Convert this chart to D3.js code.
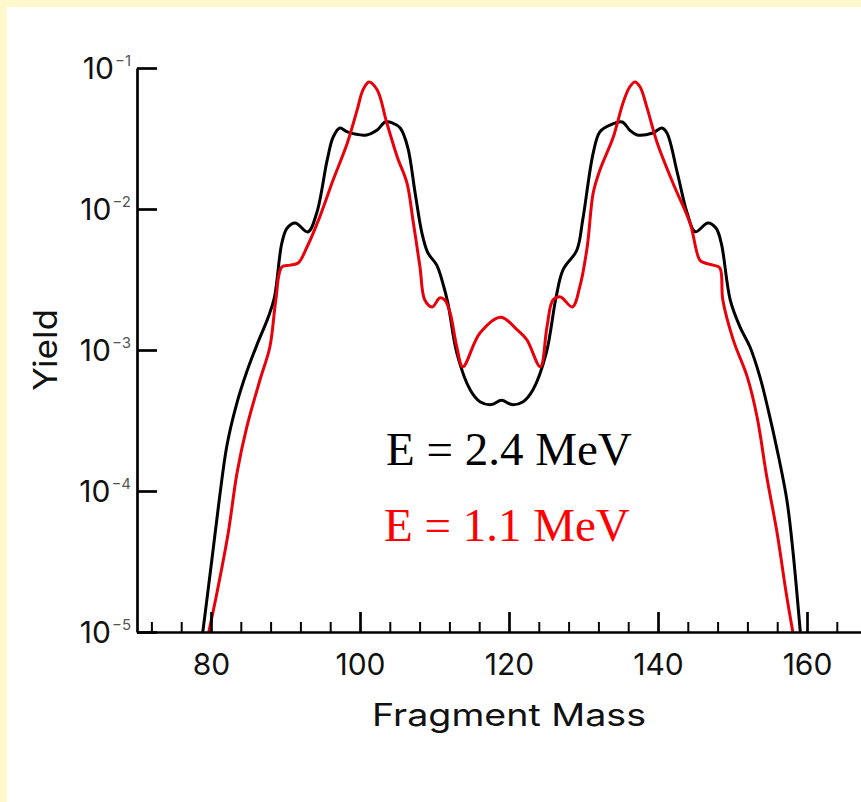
<!DOCTYPE html>
<html>
<head>
<meta charset="utf-8">
<script src="https://cdn.jsdelivr.net/npm/d3@7"></script>
<style>
  html, body { margin: 0; padding: 0; background: #fff8cc; }
  svg { display: block; }
</style>
</head>
<body>
<svg id="chart" width="861" height="802"></svg>
<script>
// Fission fragment mass yields at two excitation energies (log scale)
const massHigh  = [78.9, 80.1, 81.1, 82.15, 83.4, 84.8, 86.2, 87.65, 88.5, 89.5, 90.2, 91.3, 93.0, 94.2, 95.6, 96.4, 97.3, 98.3, 100.9, 102.3, 103.4, 104.4, 105.4, 106.4, 107.4, 108.3, 109.1, 110.3, 111.1, 111.8, 113.0, 114.8, 116.1, 117.6, 119.0, 120.4, 121.9, 123.2, 125.0, 126.3, 127.25, 129.1, 129.9, 131.3, 132.2, 133.6, 135.2, 136.2, 137.2, 139.3, 140.5, 141.2, 142.6, 143.9, 145.0, 146.7, 147.8, 148.5, 149.7, 151.0, 152.35, 153.7, 154.8, 156.0, 157.3, 158.1, 159.1];
const yieldHigh = [1.0e-5, 3.2e-5, 8.6e-5, 2.12e-4, 4.07e-4, 7.0e-4, 1.10e-3, 1.69e-3, 2.34e-3, 5.7e-3, 7.3e-3, 7.96e-3, 6.87e-3, 9.4e-3, 2.23e-2, 3.24e-2, 3.75e-2, 3.52e-2, 3.35e-2, 3.63e-2, 4.14e-2, 4.07e-2, 3.75e-2, 2.75e-2, 1.30e-2, 6.8e-3, 4.9e-3, 4.0e-3, 3.0e-3, 2.15e-3, 9.5e-4, 5.2e-4, 4.3e-4, 4.1e-4, 4.4e-4, 4.1e-4, 4.3e-4, 5.2e-4, 9.5e-4, 2.34e-3, 3.7e-3, 5.1e-3, 8.4e-3, 2.49e-2, 3.52e-2, 3.94e-2, 4.14e-2, 3.63e-2, 3.35e-2, 3.46e-2, 3.75e-2, 3.46e-2, 1.80e-2, 9.4e-3, 6.9e-3, 7.96e-3, 7.3e-3, 5.7e-3, 2.26e-3, 1.46e-3, 1.05e-3, 6.4e-4, 3.75e-4, 1.95e-4, 8.6e-5, 3.8e-5, 1.0e-5];

const massLow  = [79.7, 80.8, 82.3, 83.5, 84.8, 86.6, 87.9, 88.7, 89.5, 90.6, 91.7, 92.9, 94.6, 96.4, 98.3, 99.6, 100.4, 101.2, 102.3, 103.6, 105.0, 106.3, 107.1, 108.05, 108.7, 109.7, 110.7, 111.4, 112.1, 113.0, 113.8, 116.1, 118.9, 121.1, 122.4, 124.2, 125.1, 125.9, 126.9, 128.5, 129.5, 130.5, 131.3, 132.2, 134.0, 135.3, 136.2, 136.9, 137.6, 138.5, 139.9, 142.0, 144.3, 145.6, 146.3, 147.4, 148.3, 148.7, 150.1, 152.0, 153.3, 154.6, 156.0, 157.2, 158.1];
const yieldLow = [1.0e-5, 1.9e-5, 5.0e-5, 1.35e-4, 2.84e-4, 6.2e-4, 1.05e-3, 2.26e-3, 3.88e-3, 4.0e-3, 4.14e-3, 5.4e-3, 8.8e-3, 1.61e-2, 2.94e-2, 5.0e-2, 7.0e-2, 7.96e-2, 7.0e-2, 4.07e-2, 2.34e-2, 1.53e-2, 8.4e-3, 3.88e-3, 2.26e-3, 2.02e-3, 2.34e-3, 2.26e-3, 1.83e-3, 1.05e-3, 7.6e-4, 1.32e-3, 1.71e-3, 1.39e-3, 1.18e-3, 7.6e-4, 1.46e-3, 2.26e-3, 2.38e-3, 2.02e-3, 2.8e-3, 5.4e-3, 1.30e-2, 1.89e-2, 3.24e-2, 5.65e-2, 7.33e-2, 7.96e-2, 7.33e-2, 5.28e-2, 2.94e-2, 1.53e-2, 7.96e-3, 4.35e-3, 4.14e-3, 4.0e-3, 3.82e-3, 2.26e-3, 1.18e-3, 6.4e-4, 3.35e-4, 1.26e-4, 5.0e-5, 1.9e-5, 1.0e-5];

const seriesLabels = ["E = 2.4 MeV", "E = 1.1 MeV"];
const seriesColors = ["#000000", "#e8000b"];
const labelColors  = ["#000000", "#ff0000"];

const xMajorTicks = [80, 100, 120, 140, 160];
const xMinorTicks = d3.range(72, 170, 4).filter(v => !xMajorTicks.includes(v));
const yTicks      = [1e-5, 1e-4, 1e-3, 1e-2, 1e-1];
const yTickExps   = ["\u22125", "\u22124", "\u22123", "\u22122", "\u22121"];
const xTitle = "Fragment Mass";
const yTitle = "Yield";

const svg = d3.select("#chart");

// page background: pale border on top/left, white sheet
svg.append("rect").attr("x", 0).attr("y", 0).attr("width", 861).attr("height", 802).attr("fill", "#fff8cc");
svg.append("rect").attr("x", 7).attr("y", 7).attr("width", 900).attr("height", 900).attr("fill", "#ffffff");

const x = d3.scaleLinear().domain([70, 170]).range([136.5, 881.5]);
const y = d3.scaleLog().domain([1e-5, 1e-1]).range([632, 68]);

const axisFont = "Inter, 'DejaVu Sans', sans-serif";

// clip region for the curves
svg.append("defs").append("clipPath").attr("id", "plotClip")
  .append("rect").attr("x", 137).attr("y", 40).attr("width", 750).attr("height", 592);

// curves
const line = d3.line()
  .x(d => x(d[0]))
  .y(d => y(d[1]))
  .curve(d3.curveCatmullRom.alpha(0.5));

const curves = [
  d3.zip(massHigh, yieldHigh),
  d3.zip(massLow, yieldLow)
];

svg.append("g").attr("clip-path", "url(#plotClip)")
  .selectAll("path")
  .data(curves)
  .join("path")
  .attr("d", line)
  .attr("fill", "none")
  .attr("stroke", (d, i) => seriesColors[i])
  .attr("stroke-width", 3)
  .attr("stroke-linejoin", "round");

// x axis: minor ticks
svg.append("g")
  .attr("transform", "translate(0,632)")
  .call(d3.axisBottom(x).tickValues(xMinorTicks).tickSizeInner(-10).tickSizeOuter(0).tickFormat(""))
  .call(g => g.select(".domain").remove())
  .call(g => g.selectAll(".tick line").attr("stroke", "#000").attr("stroke-width", 2));

// x axis: major ticks, labels and baseline
const xAxisG = svg.append("g")
  .attr("transform", "translate(0,632)")
  .call(d3.axisBottom(x).tickValues(xMajorTicks).tickSizeInner(-20).tickSizeOuter(0).tickPadding(12));
xAxisG.select(".domain").attr("stroke", "#000").attr("stroke-width", 2.7);
xAxisG.selectAll(".tick line").attr("stroke", "#000").attr("stroke-width", 2.7);
xAxisG.selectAll(".tick text")
  .attr("font-family", axisFont)
  .attr("font-size", 30)
  .attr("fill", "#111")
  .attr("dy", null)
  .attr("y", 43);

// y axis
const yAxisG = svg.append("g")
  .attr("transform", "translate(137,0)")
  .call(d3.axisLeft(y).tickValues(yTicks).tickSizeInner(-20).tickSizeOuter(0).tickFormat(""));
yAxisG.select(".domain").attr("stroke", "#000").attr("stroke-width", 2.7);
yAxisG.selectAll(".tick line").attr("stroke", "#000").attr("stroke-width", 2.7);
yAxisG.selectAll(".tick text").remove();

// y tick labels as 10 with superscript exponent
svg.append("g").selectAll("text")
  .data(yTicks)
  .join("text")
  .attr("x", 131)
  .attr("y", d => y(d) + 11)
  .attr("text-anchor", "end")
  .attr("font-family", axisFont)
  .attr("fill", "#111")
  .each(function (d, i) {
    const t = d3.select(this);
    t.append("tspan").attr("font-size", 30).text("10");
    t.append("tspan").attr("font-size", 15).attr("fill", "#555").attr("dx", 1).attr("dy", -13).text(yTickExps[i]);
  });

// axis titles
svg.append("text")
  .attr("x", x(120))
  .attr("y", 726)
  .attr("text-anchor", "middle")
  .attr("font-family", axisFont)
  .attr("font-size", 31)
  .attr("fill", "#111")
  .attr("textLength", 274)
  .attr("lengthAdjust", "spacingAndGlyphs")
  .text(xTitle);

svg.append("text")
  .attr("transform", `translate(57,${y(1e-3)}) rotate(-90)`)
  .attr("text-anchor", "middle")
  .attr("font-family", axisFont)
  .attr("font-size", 32)
  .attr("fill", "#111")
  .attr("textLength", 82)
  .attr("lengthAdjust", "spacingAndGlyphs")
  .text(yTitle);

// series annotations
svg.append("g").selectAll("text")
  .data(seriesLabels)
  .join("text")
  .attr("x", (d, i) => i === 0 ? 386 : 384)
  .attr("y", (d, i) => i === 0 ? 465 : 541)
  .attr("font-family", "'Liberation Serif', 'Times New Roman', serif")
  .attr("font-size", 47)
  .attr("fill", (d, i) => labelColors[i])
  .text(d => d);
</script>
</body>
</html>
